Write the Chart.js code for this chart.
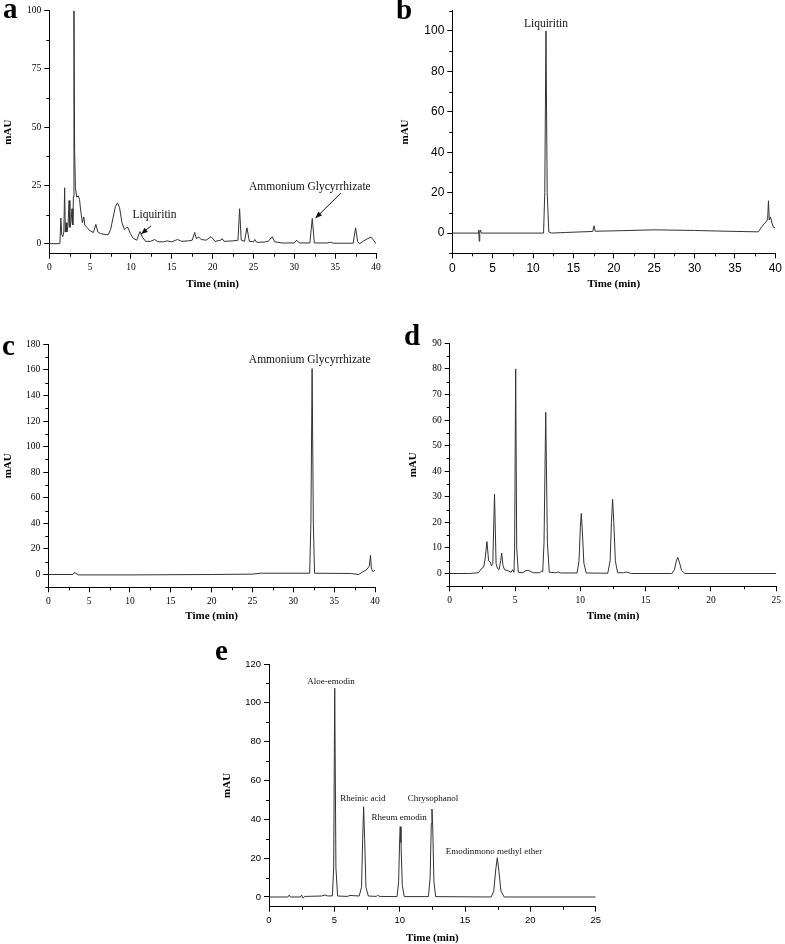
<!DOCTYPE html>
<html>
<head>
<meta charset="utf-8">
<script src="https://cdn.jsdelivr.net/npm/chart.js@4.4.1/dist/chart.umd.min.js"></script>
<style>
  body { margin: 0; background: #fff; width: 785px; height: 944px; overflow: hidden; position: relative; }
  canvas { position: absolute; }
</style>
</head>
<body>
<canvas id="chartA"></canvas>
<canvas id="chartB"></canvas>
<canvas id="chartC"></canvas>
<canvas id="chartD"></canvas>
<canvas id="chartE"></canvas>
<script>
// ---- panel a : sample extract, 0-40 min ----
var aTime = [0, 1.2, 1.3, 1.42, 1.52, 1.65, 1.78, 1.88, 1.96, 2.05, 2.15, 2.3, 2.42, 2.52, 2.65, 2.78, 2.88, 2.95, 3.02, 3.1,
  3.2, 3.35, 3.55, 3.7, 3.85, 4.05, 4.22, 4.35, 4.6, 5.0, 5.4, 5.7, 5.95, 6.3, 6.8, 7.2, 7.5, 7.8, 8.1, 8.35,
  8.6, 8.9, 9.2, 9.5, 9.65, 9.9, 10.3, 10.7, 11.1, 11.4, 11.8, 12.4, 12.9, 13.3, 14.0, 14.4, 15.0, 15.7, 16.2, 17.0,
  17.5, 17.8, 18.0, 18.3, 18.6, 19.2, 19.8, 20.3, 21.0, 21.15, 21.4, 22.5, 23.1, 23.3, 23.5, 23.9, 24.2, 24.5, 25.0, 25.15,
  25.4, 26.3, 26.8, 27.3, 27.6, 28.5, 30.0, 30.3, 30.6, 31.9, 32.2, 32.45, 34.0, 34.4, 34.8, 37.2, 37.5, 37.75, 38.0, 38.5,
  39.0, 39.4, 39.7, 40];
var aSignal = [0, 0, 0.3, 11, 4, 3, 5, 24, 5, 9, 5, 8, 18.5, 7, 9, 15, 8, 20, 100, 40,
  24, 20, 20.5, 19, 14, 9, 11.5, 8, 7, 5.5, 4.8, 8.3, 5, 4.3, 4, 3.8, 6, 11, 16, 17.5,
  15.5, 9, 6, 7, 6.8, 4.5, 2.2, 1.5, 5.2, 2.8, 1, 1, 1.8, 0.8, 0.8, 1.2, 0.8, 1.8, 1, 1.2,
  1.5, 4.8, 2.2, 2.8, 1.8, 1.5, 3, 1, 1.5, 2.2, 1, 1.2, 1.5, 15, 1.5, 1, 6.8, 1, 0.8, 1.8,
  0.6, 0.7, 1, 3, 0.8, 0.3, 0.3, 1.5, 0.3, 0.3, 10.8, 0.3, 0.3, 0.6, 0.2, 0.2, 6.8, 1.0, 0, 1.2,
  2.2, 2.8, 1.5, 0];

// ---- panel b : liquiritin standard ----
var bTime = [0, 3.2, 3.28, 3.33, 3.4, 3.5, 3.6, 11.3, 11.45, 11.6, 11.75, 11.95, 12.3, 14, 17.4, 17.55, 17.7, 21, 25, 30,
  33, 37.9, 38.2, 38.6, 38.9, 39.05, 39.15, 39.25, 39.4, 39.55, 39.75, 40];
var bSignal = [0, 0, 1.5, -4, 0.5, 1.5, 0, 0, 20, 100, 20, 0.5, 0, 0.3, 0.8, 3.6, 0.9, 1.2, 1.6, 1.3,
  1.0, 0.6, 2.5, 4.5, 5.8, 7, 16, 6.5, 8, 5.5, 3, 2.5];

// ---- panel c : ammonium glycyrrhizate standard ----
var cTime = [0, 3.0, 3.15, 3.4, 3.7, 10, 20, 25, 26, 32.0, 32.15, 32.3, 32.45, 32.6, 37.0, 38.0, 38.5, 39.0, 39.3, 39.45,
  39.55, 39.7, 39.85, 40];
var cSignal = [0, 0, 1.5, 0.8, -0.3, -0.3, 0, 0.3, 1, 1, 40, 161, 40, 1, 0.8, 0, 2, 4, 6.5, 15,
  5, 2.5, 2.5, 3.5];

// ---- panel d : rhubarb sample, 0-25 min ----
var dTime = [0, 1.5, 2.2, 2.45, 2.6, 2.72, 2.85, 2.98, 3.1, 3.2, 3.3, 3.43, 3.55, 3.65, 3.78, 3.9, 3.98, 4.08, 4.2, 4.5,
  4.7, 4.82, 4.92, 4.97, 5.05, 5.13, 5.25, 5.6, 5.85, 6.05, 6.4, 6.9, 7.02, 7.12, 7.22, 7.35, 7.48, 7.62, 8.1, 8.3,
  8.5, 9.75, 9.9, 10.0, 10.07, 10.15, 10.27, 10.45, 12.1, 12.28, 12.38, 12.47, 12.56, 12.68, 12.85, 13.3, 13.5, 13.9, 17.0, 17.2,
  17.35, 17.45, 17.58, 17.75, 18.0, 25];
var dSignal = [0, 0, 0.3, 2, 2.5, 6, 12.5, 5, 4.5, 3, 4, 31, 4, 2, 1.5, 5, 8, 3, 1.5, 1,
  0.5, 1.5, 0.5, 10, 80, 10, 0.5, 0.3, 1.2, 1.2, 0.3, 0.3, 1, 0.6, 12, 63, 12, 0.5, 0.3, 0.6,
  0.2, 0.2, 5, 18, 23.5, 17, 4, 0.2, 0.1, 5, 20, 29, 20, 5, 0.3, 0.3, 0.6, 0, 0, 1.5,
  4.8, 6.3, 4.5, 1.2, 0, 0];

// ---- panel e : mixed anthraquinone standards ----
var eTime = [0, 1.45, 1.55, 1.65, 2.4, 2.5, 2.6, 2.75, 4.0, 4.3, 4.5, 4.85, 4.95, 5.03, 5.12, 5.25, 6.0, 6.2, 6.9, 7.08,
  7.17, 7.24, 7.32, 7.42, 7.6, 8.2, 8.3, 8.5, 9.8, 9.92, 10.0, 10.04, 10.1, 10.2, 10.35, 12.2, 12.33, 12.42, 12.47, 12.53,
  12.62, 12.75, 17.0, 17.2, 17.35, 17.47, 17.6, 17.75, 18.0, 25];
var eSignal = [0, 0, 1.0, 0, 0, 1.0, -0.6, 0.3, 0.5, 1.0, 0.5, 0.6, 15, 107.5, 15, 0.5, 0.3, 0.8, 0.5, 5,
  30, 46.5, 30, 5, 0.5, 0.3, 0.8, 0.3, 0.2, 8, 30, 36.2, 28, 6, 0.2, 0.2, 10, 38, 45.3, 36,
  8, 0.2, 0, 3, 14, 20.2, 13, 3, 0, 0];

// tick labels
var ticks40 = [0, 5, 10, 15, 20, 25, 30, 35, 40];
var ticks25 = [0, 5, 10, 15, 20, 25];
var aYTicks = [0, 25, 50, 75, 100];
var bYTicks = [0, 20, 40, 60, 80, 100];
var cYTicks = [0, 20, 40, 60, 80, 100, 120, 140, 160, 180];
var dYTicks = [0, 10, 20, 30, 40, 50, 60, 70, 80, 90];
var eYTicks = [0, 20, 40, 60, 80, 100, 120];

// peak names [time, mAU]
var eNames = ["Aloe-emodin", "Rheinic acid", "Rheum emodin", "Chrysophanol", "Emodinmono methyl ether"];
var eNameAt = [[4.74, 109.7], [7.19, 49.2], [9.95, 39.9], [12.55, 49.5], [17.21, 22.1]];

var serif = "'Liberation Serif', 'Times New Roman', serif";
var sans = "'Liberation Sans', Arial, sans-serif";

var decor = {
  id: "decor",
  afterDraw: (chart, args, opts) => {
    const ctx = chart.ctx;
    const xs = chart.scales.x, ys = chart.scales.y;
    const area = chart.chartArea;
    ctx.save();
    ctx.strokeStyle = "#000";
    ctx.lineWidth = 1;
    // minor ticks
    ctx.beginPath();
    for (let v = Math.ceil(xs.min / opts.xMinor) * opts.xMinor; v <= xs.max + 1e-9; v += opts.xMinor) {
      if (Math.abs(v / opts.xMajor - Math.round(v / opts.xMajor)) < 1e-6) continue;
      const px = Math.round(xs.getPixelForValue(v)) + 0.5;
      ctx.moveTo(px, area.bottom);
      ctx.lineTo(px, area.bottom + 3);
    }
    for (let v = Math.ceil(ys.min / opts.yMinor) * opts.yMinor; v <= ys.max + 1e-9; v += opts.yMinor) {
      if (Math.abs(v / opts.yMajor - Math.round(v / opts.yMajor)) < 1e-6) continue;
      const py = Math.round(ys.getPixelForValue(v)) + 0.5;
      ctx.moveTo(area.left, py);
      ctx.lineTo(area.left - 3, py);
    }
    ctx.stroke();

    // peak labels
    ctx.fillStyle = "#111";
    ctx.textAlign = "center";
    ctx.textBaseline = "alphabetic";
    ctx.font = opts.labelSize + "px " + serif;
    (opts.labels || []).forEach((l) => {
      ctx.fillText(l.text, xs.getPixelForValue(l.at[0]), ys.getPixelForValue(l.at[1]));
    });

    // arrows
    ctx.strokeStyle = "#111";
    (opts.arrows || []).forEach((a) => {
      const x1 = xs.getPixelForValue(a.from[0]), y1 = ys.getPixelForValue(a.from[1]);
      const x2 = xs.getPixelForValue(a.to[0]), y2 = ys.getPixelForValue(a.to[1]);
      const ang = Math.atan2(y2 - y1, x2 - x1);
      ctx.beginPath();
      ctx.moveTo(x1, y1);
      ctx.lineTo(x2, y2);
      ctx.stroke();
      ctx.beginPath();
      ctx.moveTo(x2, y2);
      ctx.lineTo(x2 - 7 * Math.cos(ang - 0.4), y2 - 7 * Math.sin(ang - 0.4));
      ctx.lineTo(x2 - 7 * Math.cos(ang + 0.4), y2 - 7 * Math.sin(ang + 0.4));
      ctx.closePath();
      ctx.fillStyle = "#111";
      ctx.fill();
    });

    // panel letter
    ctx.fillStyle = "#000";
    ctx.textAlign = "left";
    ctx.font = "bold 29px " + serif;
    ctx.fillText(opts.letter, opts.letterPos[0], opts.letterPos[1]);
    ctx.restore();
  },
};

function makePanel(id, box, area, cfg) {
  const canvas = document.getElementById(id);
  canvas.width = box.w;
  canvas.height = box.h;
  canvas.style.left = box.x + "px";
  canvas.style.top = box.y + "px";
  const titleFont = { family: serif, size: 11, weight: "bold" };
  const points = cfg.time.map((t, i) => ({ x: t, y: cfg.signal[i] }));

  new Chart(canvas, {
    type: "line",
    data: {
      datasets: [
        {
          data: points,
          borderColor: "#333",
          borderWidth: 1,
          pointRadius: 0,
          tension: 0,
          fill: false,
        },
      ],
    },
    options: {
      responsive: false,
      animation: false,
      events: [],
      layout: {
        padding: { left: 0, bottom: 0, top: area.t - box.y, right: box.x + box.w - area.r },
      },
      plugins: {
        legend: { display: false },
        tooltip: { enabled: false },
        decor: {
          xMajor: 5, xMinor: 2.5, yMajor: cfg.yMajor, yMinor: cfg.yMinor,
          letter: cfg.letter,
          letterPos: [cfg.letterAt[0] - box.x, cfg.letterAt[1] - box.y],
          labels: cfg.labels, arrows: cfg.arrows, labelSize: cfg.labelSize,
        },
      },
      scales: {
        x: {
          type: "linear",
          bounds: "data",
          min: 0,
          max: cfg.xMax,
          afterFit: (s) => { s.height = box.y + box.h - area.b; },
          afterBuildTicks: (s) => { s.ticks = cfg.xTicks.map((v) => ({ value: v })); },
          grid: { drawOnChartArea: false, tickLength: 5, tickColor: "#000" },
          border: { color: "#000", width: 1 },
          ticks: { font: cfg.tickFont, color: "#000", padding: 3, maxRotation: 0, autoSkip: false },
          title: {
            display: true, text: "Time (min)", font: titleFont, color: "#000",
            padding: { top: 0, bottom: box.y + box.h - cfg.timeY - 6.6 },
          },
        },
        y: {
          type: "linear",
          bounds: "data",
          min: cfg.yRange[0],
          max: cfg.yRange[1],
          afterFit: (s) => { s.width = area.l - box.x; },
          afterBuildTicks: (s) => { s.ticks = cfg.yTicks.map((v) => ({ value: v })); },
          grid: { drawOnChartArea: false, tickLength: 5, tickColor: "#000" },
          border: { color: "#000", width: 1 },
          ticks: { font: cfg.tickFont, color: "#000", padding: 3, autoSkip: false },
          title: {
            display: true, text: "mAU", font: titleFont, color: "#000",
            padding: { top: cfg.mauX - box.x - 6.6, bottom: 0 },
          },
        },
      },
    },
    plugins: [decor],
  });
}

var serifTicks = { family: serif, size: 9.5 };

makePanel("chartA", { x: 0, y: 0, w: 392, h: 300 }, { l: 49.3, t: 10.7, r: 376, b: 253.7 }, {
  time: aTime, signal: aSignal, xMax: 40, xTicks: ticks40,
  yRange: [-4.3, 100], yTicks: aYTicks, yMajor: 25, yMinor: 12.5,
  tickFont: serifTicks, mauX: 8.3, timeY: 284, letter: "a", letterAt: [3, 18],
  labelSize: 11.5,
  labels: [{ text: "Liquiritin", at: [12.88, 11.0] }, { text: "Ammonium Glycyrrhizate", at: [31.9, 23.0] }],
  arrows: [{ from: [12.45, 7.6], to: [11.25, 4.2] }, { from: [35.7, 21.7], to: [32.6, 11.0] }],
});

makePanel("chartB", { x: 392, y: 0, w: 393, h: 300 }, { l: 452.3, t: 10.7, r: 778.7, b: 253.3 }, {
  time: bTime, signal: bSignal, xMax: 40, xTicks: ticks40,
  yRange: [-10, 110], yTicks: bYTicks, yMajor: 20, yMinor: 10,
  tickFont: { family: sans, size: 12 }, mauX: 405.3, timeY: 284, letter: "b", letterAt: [396, 19],
  labelSize: 11.5,
  labels: [{ text: "Liquiritin", at: [11.6, 101.8] }],
});

makePanel("chartC", { x: 0, y: 300, w: 392, h: 325 }, { l: 48.3, t: 344.3, r: 375, b: 587.3 }, {
  time: cTime, signal: cSignal, xMax: 40, xTicks: ticks40,
  yRange: [-10, 180], yTicks: cYTicks, yMajor: 20, yMinor: 10,
  tickFont: serifTicks, mauX: 8.3, timeY: 616, letter: "c", letterAt: [2, 355],
  labelSize: 11.5,
  labels: [{ text: "Ammonium Glycyrrhizate", at: [32.0, 165.6] }],
});

makePanel("chartD", { x: 392, y: 300, w: 393, h: 325 }, { l: 449.7, t: 343.3, r: 776.3, b: 586.3 }, {
  time: dTime, signal: dSignal, xMax: 25, xTicks: ticks25,
  yRange: [-5, 90], yTicks: dYTicks, yMajor: 10, yMinor: 5,
  tickFont: serifTicks, mauX: 412.7, timeY: 616, letter: "d", letterAt: [404, 345],
  labelSize: 11.5,
});

makePanel("chartE", { x: 180, y: 625, w: 440, h: 320 }, { l: 269, t: 664, r: 595.7, b: 906.7 }, {
  time: eTime, signal: eSignal, xMax: 25, xTicks: ticks25,
  yRange: [-5, 120], yTicks: eYTicks, yMajor: 20, yMinor: 10,
  tickFont: { family: sans, size: 9.5 }, mauX: 226.7, timeY: 937.7, letter: "e", letterAt: [215, 660],
  labelSize: 9,
  labels: eNames.map((n, i) => ({ text: n, at: eNameAt[i] })),
});
</script>
</body>
</html>
